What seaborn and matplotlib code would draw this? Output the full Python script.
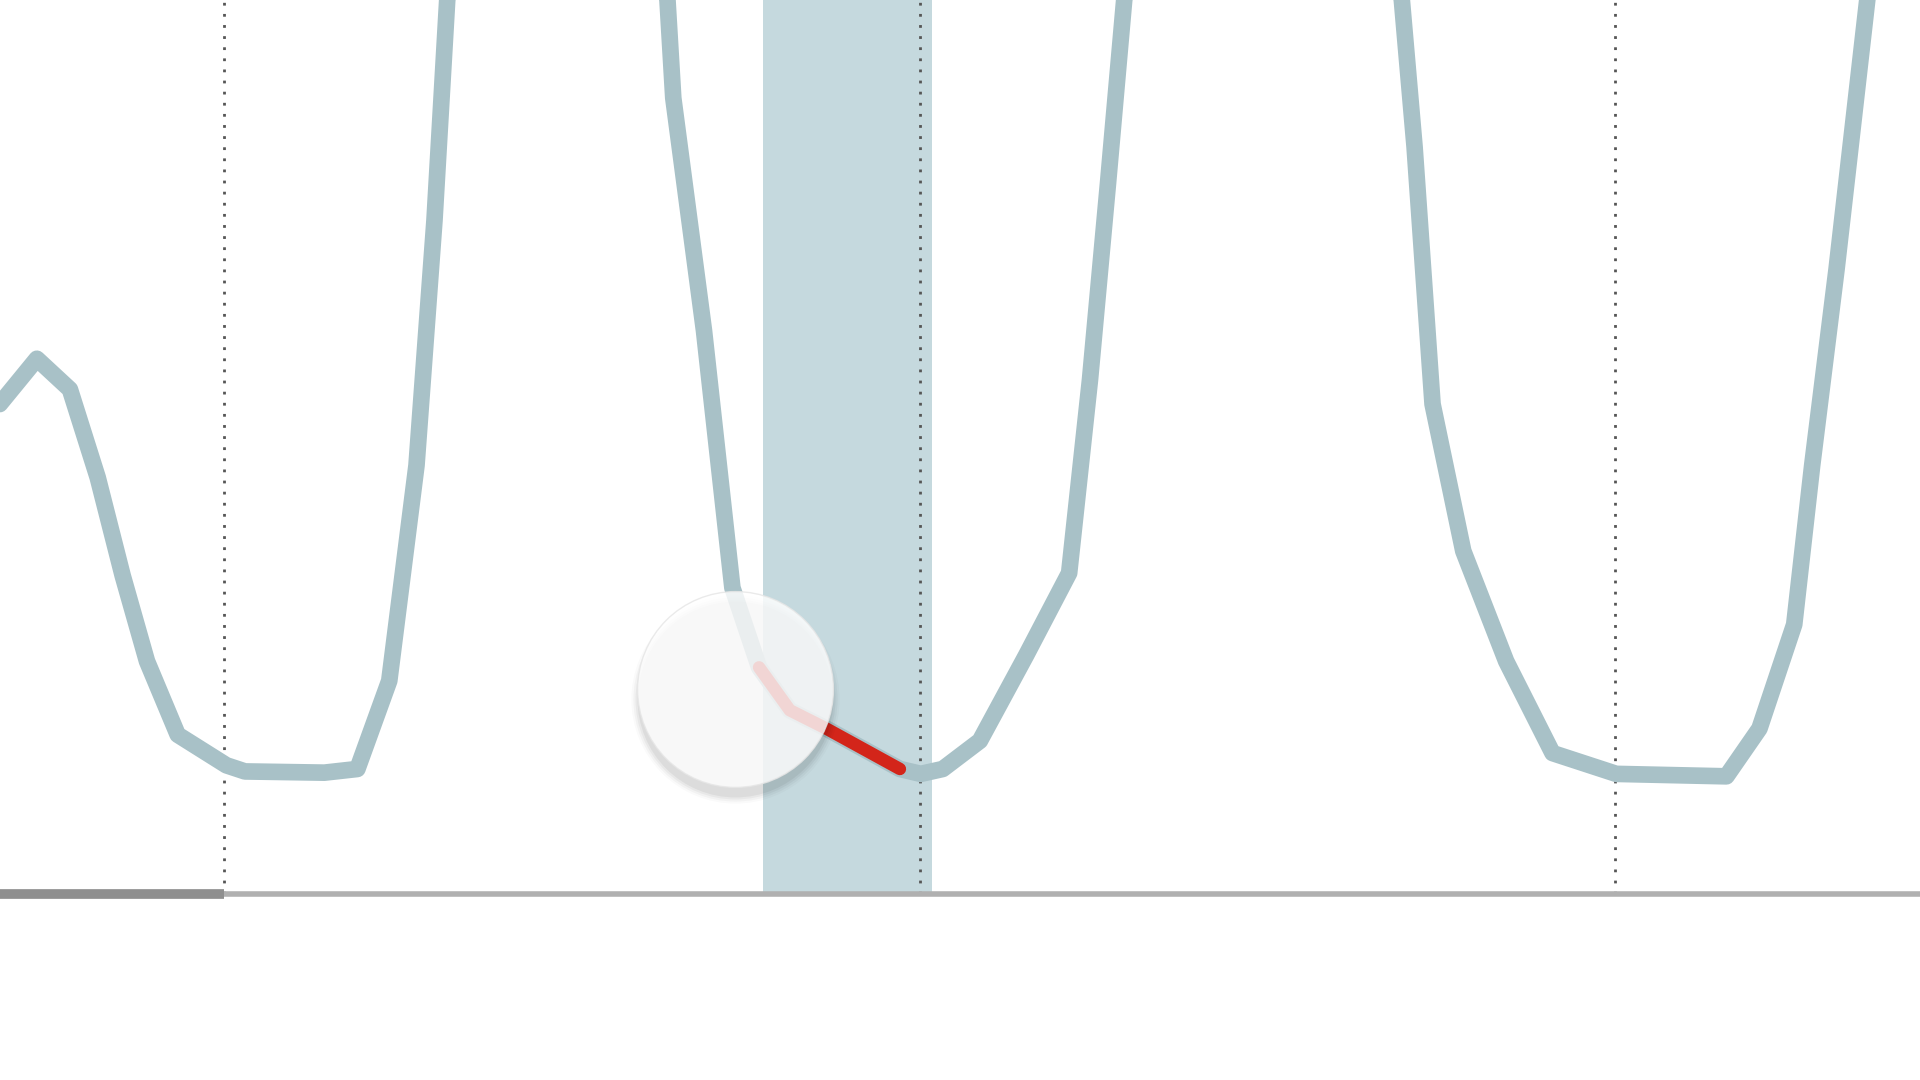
import pandas as pd
import matplotlib.pyplot as plt
import seaborn as sns
import numpy as np

# tide height (m) against hours
hours = [-3.87, -3.23, -2.66, -2.18, -1.75, -1.33, -0.80, 0.04, 0.36, 1.73, 2.30, 2.85,
         3.32, 3.63, 3.85, 4.6, 5.7, 6.8, 7.65, 7.75, 8.28, 8.77, 9.23, 9.76, 10.39,
         11.66, 12.02, 12.40, 13.04, 13.84, 14.58, 14.94, 15.25, 15.53, 16.5, 18.0,
         19.5, 20.32, 20.54, 20.85, 21.38, 22.12, 22.92, 24.02, 25.92, 26.49, 27.09,
         27.40, 27.82, 28.35, 28.8, 29.4]
height = [4.00, 4.37, 4.12, 3.40, 2.60, 1.90, 1.30, 1.05, 1.00, 0.99, 1.02, 1.74,
          3.50, 5.50, 7.30, 9.2, 9.7, 9.2, 7.30, 6.50, 4.60, 2.50, 1.85, 1.50, 1.35,
          1.02, 0.98, 1.02, 1.25, 1.95, 2.62, 4.20, 5.80, 7.30, 9.3, 9.8, 9.3,
          7.30, 6.10, 4.00, 2.80, 1.90, 1.15, 0.98, 0.96, 1.35, 2.20,
          3.50, 5.10, 7.30, 9.0, 9.6]
day_marks = [0, 12, 24]
band = (9.30, 12.21)
highlight = (9.2, 11.7)
now_hour, now_height = 8.81, 1.67

df = pd.DataFrame({'hour': hours, 'height': height})
red = df[(df['hour'] >= highlight[0]) & (df['hour'] <= highlight[1])]

sns.set_style('white')
fig = plt.figure(figsize=(19.2, 10.8), dpi=100)
ax = fig.add_axes([0, 0, 1, 1])
xmin, xmax = -3.866, 29.26
ymin, ymax = -1.52, 7.30
base_frac = (0 - ymin) / (ymax - ymin)

# shaded window, only above the baseline
ax.axvspan(band[0], band[1], ymin=base_frac, ymax=1, color='#c5d9de', lw=0, zorder=1)

# dotted day markers
for d in day_marks:
    ax.axvline(d, ymin=base_frac, ymax=1, color='#555555',
               lw=2, linestyle=(0, (1, 3)), zorder=2)

# baseline
ax.axhline(0, color='#b0b0b0', lw=4, zorder=2)
ax.plot([xmin, 0], [0, 0], color='#8f8f8f', lw=7, zorder=2, solid_capstyle='butt')

# tide curve
sns.lineplot(data=df, x='hour', y='height', color='#a8c1c7', lw=12, ax=ax,
             zorder=3, sort=False)
sns.lineplot(data=red, x='hour', y='height', color='#d3251a', lw=9, ax=ax,
             zorder=4, sort=False)
ax.set_xlim(xmin, xmax)
ax.set_ylim(ymin, ymax)
ax.axis('off')

# handle with soft shadow below
for k, a in enumerate([0.02, 0.03, 0.04, 0.05]):
    ax.scatter([now_hour], [now_height - 0.08], s=(150 - k * 3) ** 2,
               color='black', alpha=a, lw=0, zorder=5)
ax.scatter([now_hour], [now_height], s=141 ** 2, color='white', alpha=0.82,
           edgecolor='#e6e6e6', lw=1, zorder=6)

fig.savefig('out.png', dpi=100)
